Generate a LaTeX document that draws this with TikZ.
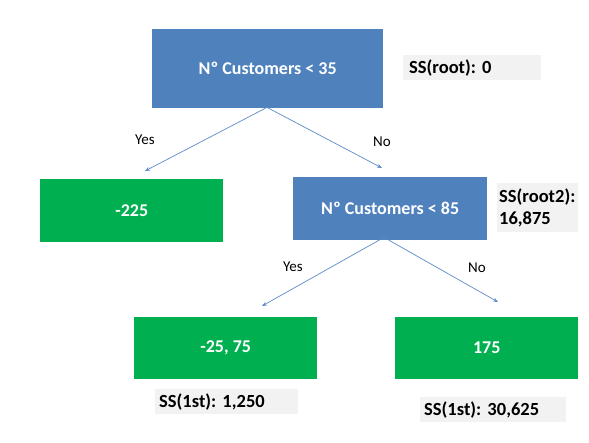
\documentclass[tikz,border=0pt]{standalone}
\usepackage{fontspec}
\setmainfont{Carlito}
\usetikzlibrary{arrows.meta}
\definecolor{nodeblue}{HTML}{4F81BD}
\definecolor{leafgreen}{HTML}{00B050}
\definecolor{ssgray}{HTML}{F2F2F2}
\definecolor{arrowblue}{HTML}{5B8BC8}
\tikzset{
  boxbase/.style={anchor=north west, inner sep=0pt, font=\bfseries\fontsize{18}{20}\selectfont, text=white},
  splitbox/.style={boxbase, fill=nodeblue},
  leafbox/.style={boxbase, fill=leafgreen},
  ssbox/.style={anchor=north west, inner sep=0pt, fill=ssgray, font=\bfseries\fontsize{18.5}{22}\selectfont, text=black, align=left},
  edgelbl/.style={font=\fontsize{15}{17}\selectfont, text=black},
  conn/.style={draw=arrowblue, line width=0.7pt, -{Stealth[length=5pt,width=4pt]}}
}
\begin{document}
\frenchspacing
\begin{tikzpicture}[x=1pt,y=-1pt]
\useasboundingbox (0,0) rectangle (589,442);
% root
\node[splitbox, minimum width=231pt, minimum height=79pt] (root) at (152,29) {Nº Customers < 35};
\node[ssbox, minimum width=132pt, minimum height=25pt, text width=126pt, inner xsep=6pt] (ssroot) at (403,55) {SS(root): 0};
% level 1
\node[leafbox, minimum width=183pt, minimum height=63pt] (l1) at (40,179) {-225};
\node[splitbox, minimum width=194pt, minimum height=63pt] (root2) at (293,177) {Nº Customers < 85};
\node[ssbox, minimum width=81pt, minimum height=49pt, text width=77pt, inner xsep=2pt] (ssroot2) at (497,183) {SS(root2):\\16,875};
% level 2
\node[leafbox, minimum width=183pt, minimum height=62pt] (l2) at (134,317) {-25, 75};
\node[leafbox, minimum width=183pt, minimum height=62pt] (l3) at (395,317) {175};
\node[ssbox, minimum width=143pt, minimum height=25pt, text width=135pt, inner xsep=4pt] (ss1) at (155,389) {SS(1st): 1,250};
\node[ssbox, minimum width=146pt, minimum height=25pt, text width=138pt, inner xsep=4pt] (ss2) at (420,397) {SS(1st): 30,625};
% connectors
\coordinate (r1) at (145,171);
\coordinate (r2) at (382,168);
\coordinate (r3) at (262,306);
\coordinate (r4) at (498,302);
\draw[conn] ([yshift=1pt]root.south -| 267,0) -- (r1);
\draw[conn] ([yshift=1pt]root.south -| 267,0) -- (r2);
\draw[conn] ([yshift=3pt]root2.south -| 384,0) -- (r3);
\draw[conn] ([yshift=3pt]root2.south -| 384,0) -- (r4);
% labels
\node[edgelbl] (y1) at (145,140) {Yes};
\node[edgelbl] (n1) at (382,142) {No};
\node[edgelbl] (y2) at (293,267) {Yes};
\node[edgelbl] (n2) at (477,268) {No};
\end{tikzpicture}
\end{document}
